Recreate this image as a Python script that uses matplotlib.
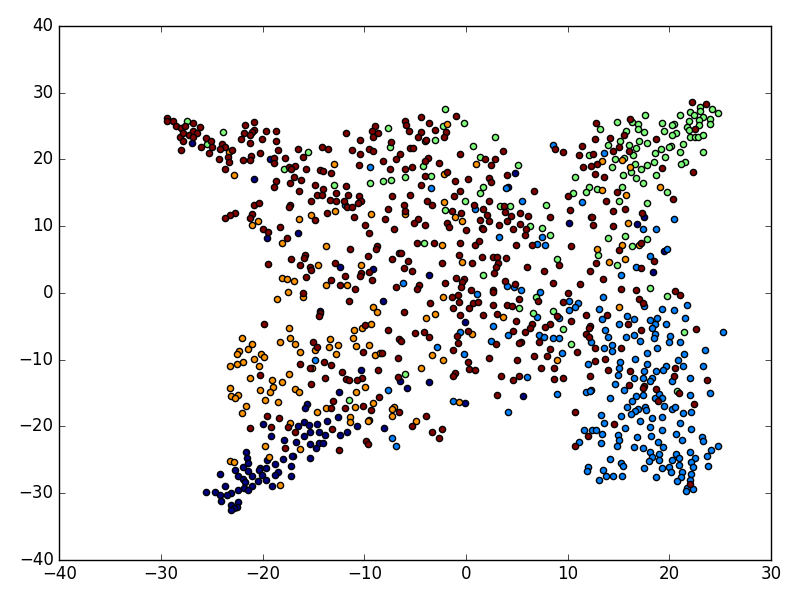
import numpy as np
import matplotlib
matplotlib.use('Agg')
import matplotlib.pyplot as plt

# points, one list for each class
red_pts = [
    (-29.4,26.2),(-29.4,25.7),(-28.8,25.8),(-28.5,25.0),(-28.0,24.7),(-27.6,25.0),(-26.8,25.5),(-26.2,24.8),
    (-28.1,23.4),(-27.8,23.9),(-27.2,23.7),(-26.8,24.2),(-26.5,23.9),(-26.8,23.3),(-27.8,22.7),(-28.0,21.4),
    (-26.1,21.9),(-25.6,23.2),(-25.1,22.7),(-25.0,21.8),(-25.3,21.0),(-24.0,22.3),(-23.7,21.8),(-24.2,21.5),
    (-23.0,21.4),(-23.4,20.3),(-24.3,20.0),(-23.3,19.6),(-23.7,18.5),(-21.7,25.1),(-20.8,25.6),(-21.8,24.0),
    (-20.8,24.4),(-21.0,24.1),(-21.2,23.6),(-22.1,23.1),(-21.2,22.5),(-20.1,23.1),(-19.7,24.2),(-18.7,24.3),
    (-18.7,22.8),(-18.5,21.4),(-20.3,20.9),(-21.1,20.5),(-21.9,19.9),(-21.2,19.9),(-18.9,20.2),(-18.9,19.4),
    (-17.8,20.2),(-16.5,21.5),(-16.0,20.3),(-14.2,21.8),(-13.6,21.6),(-11.8,23.9),(-17.4,18.8),(-16.8,19.0),
    (-17.2,18.5),(-15.7,18.5),(-14.4,18.4),(-14.1,18.3),(-13.3,18.0),(-16.9,17.4),(-16.2,16.9),(-18.7,16.7),
    (-18.9,15.9),(-17.3,16.4),(-16.4,15.2),(-14.9,16.2),(-14.1,15.6),(-14.7,14.6),(-14.2,14.6),(-12.8,14.9),
    (-11.8,16.0),(-11.6,14.6),(-15.2,13.7),(-13.4,13.9),(-12.8,13.7),(-12.0,13.8),(-11.7,12.8),(-20.8,13.1),
    (-20.4,13.4),(-17.3,13.1),(-17.4,12.8),(-22.7,12.0),(-23.2,11.6),(-23.7,11.2),(-21.0,11.8),(-21.2,11.2),
    (-13.7,11.9),(-14.9,10.9),(-20.0,9.5),(-19.5,9.1),(-18.3,9.9),(-17.6,8.2),
    (-9.0,25.0),(-9.2,24.3),(-8.7,23.9),(-9.1,23.3),(-10.4,22.9),(-7.4,22.6),(-11.2,21.4),(-10.4,20.8),
    (-9.5,21.5),(-9.1,21.3),(-10.5,19.2),(-8.2,19.8),(-6.9,20.0),(-6.5,20.8),(-7.5,18.6),(-6.0,25.8),
    (-5.95,25.1),(-5.6,24.3),(-4.4,26.4),(-3.6,25.5),(-4.4,24.1),(-4.7,23.4),(-3.9,22.9),(-3.1,24.4),
    (-2.0,24.1),(-2.2,23.4),(-1.0,26.5),(-5.5,21.7),(-5.2,21.7),(-0.6,20.8),(3.6,21.2),(-3.7,20.2),
    (-4.0,19.7),(-2.7,19.5),(-6.0,18.5),(-5.3,18.9),(1.9,20.0),(2.8,20.1),(2.5,19.1),(-1.9,18.1),
    (-4.0,17.5),(-1.1,16.7),(0.15,17.0),(2.25,17.2),(2.5,16.6),(4.0,17.7),(-4.4,16.2),(-0.6,15.2),
    (-1.2,14.5),(6.7,15.3),(-7.3,14.5),(-5.5,14.6),(-3.8,13.8),(-3.3,13.2),(2.25,13.8),(0.8,13.2),
    (3.7,13.0),(-10.5,14.5),(-10.3,13.8),(-10.6,13.4),(-11.2,12.8),(-7.7,12.6),(-6.1,13.2),(-6.0,12.2),
    (-11.0,11.3),(-7.95,11.0),(-9.9,10.1),(-9.55,9.0),(-7.1,9.6),(-4.7,11.0),(-5.1,10.4),(-4.0,10.1),
    (-1.4,12.3),(-0.5,12.0),(-1.9,10.4),(-1.7,9.9),(0.0,9.4),(1.65,12.5),(2.1,11.7),(1.4,10.9),
    (2.3,10.7),(1.6,9.7),(1.7,9.5),(3.2,10.1),(3.85,12.1),(4.4,11.5),(4.0,10.7),(5.3,11.9),
    (6.1,11.5),(5.3,10.3),(4.6,9.6),(5.9,9.6),(5.75,8.7),(8.3,11.3),
    (22.2,28.6),(23.6,28.3),(16.1,26.1),(12.8,25.4),(22.5,24.5),(15.5,23.6),(14.2,23.2),(12.7,23.0),
    (18.7,23.1),(11.4,22.0),(8.7,21.5),(9.5,21.1),(11.1,20.6),(12.5,20.8),(14.4,21.3),(15.0,21.9),
    (16.0,21.3),(12.9,19.3),(12.3,19.0),(11.5,18.8),(12.7,17.8),(13.6,17.3),(19.3,18.7),(22.3,18.1),
    (14.8,15.1),(10.0,14.5),(13.8,13.7),(20.3,14.1),(10.2,12.4),(14.4,12.2),(15.6,12.5),(17.3,11.9),
    (12.4,11.3),(12.5,10.1),(14.4,10.0),
    (-11.4,6.5),(-8.8,7.0),(-8.9,6.5),(-9.6,5.5),(-7.3,5.1),(-6.6,5.9),(-17.2,5.0),(-15.8,5.7),
    (-15.9,5.2),(-19.5,4.3),(-16.3,4.1),(-15.3,3.8),(-15.2,3.4),(-12.9,4.5),(-10.3,3.0),(-10.4,2.5),
    (-9.5,3.1),(-11.9,2.5),(-15.7,2.4),(-13.3,1.9),(-12.4,1.1),(-9.2,1.9),(-10.9,0.6),(-6.9,0.9),
    (-16.0,0.0),(-11.55,-1.2),(-14.4,-3.0),(-14.5,-3.5),(-19.9,-4.7),(-9.9,-4.8),(-7.7,-5.6),(-6.6,-6.9),
    (-15.0,-7.4),(-14.7,-8.1),(-10.1,-8.8),(-8.3,-9.0),(-6.7,-9.7),(-16.3,-10.6),(-14.0,-10.3),(-13.3,-10.8),
    (-15.3,-11.3),(-12.2,-11.9),(-8.7,-11.6),(-20.3,-12.3),(-13.9,-12.7),(-11.8,-12.9),(-11.5,-13.0),(-10.2,-12.7),
    (-10.7,-13.1),(-6.7,-12.6),(-15.2,-13.7),
    (-4.8,7.4),(-3.2,7.5),(-0.6,7.5),(0.9,7.1),(1.3,7.7),(4.9,7.1),(6.5,7.2),(10.35,7.0),
    (-6.4,5.9),(-5.7,4.7),(-6.1,3.7),(-5.3,3.3),(-0.7,5.7),(-2.4,4.4),(0.6,4.4),(1.6,5.4),
    (2.6,5.4),(3.0,5.3),(3.96,5.2),(3.1,4.4),(2.9,3.9),(2.7,2.9),(5.96,3.8),(7.7,3.3),
    (9.1,4.1),(12.2,3.3),(12.8,4.4),(-2.1,1.5),(-1.0,2.2),(-0.2,2.1),(-0.4,1.6),(-0.5,0.9),
    (-4.6,1.1),(-4.8,0.6),(0.5,0.4),(-0.8,-0.3),(-1.4,-0.7),(-0.7,-1.4),(-3.5,-1.5),(0.7,-1.5),
    (1.2,-1.4),(2.65,0.4),(2.65,0.1),(3.8,1.7),(4.8,1.3),(8.5,1.5),(11.2,1.3),(10.0,-0.1),
    (5.2,-1.0),(7.1,-1.3),(9.5,-1.4),(2.6,-1.9),(4.05,-1.9),(4.5,-2.0),(-1.3,-2.3),(0.3,-2.3),
    (-0.6,-3.3),(1.7,-3.3),(3.0,-3.2),(-6.1,-2.9),(4.9,-4.2),(8.9,-3.5),(10.3,-4.2),(11.8,-3.3),
    (6.5,-4.7),(6.3,-5.2),(5.8,-5.8),(8.3,-4.7),(7.8,-5.1),(12.2,-5.0),(12.05,-5.3),(11.8,-6.2),
    (12.1,-6.6),(4.6,-5.7),(-5.0,-6.0),(-4.1,-5.9),(-3.6,-6.6),(-6.4,-7.2),(0.15,-5.7),(-0.9,-6.4),
    (-0.8,-7.5),(-1.3,-8.5),(2.9,-7.7),(5.4,-7.4),(5.2,-7.5),(7.2,-7.4),(8.3,-8.4),(7.96,-9.5),
    (6.7,-9.5),(10.9,-8.9),(12.7,-8.3),(12.7,-10.2),(2.3,-9.8),(5.0,-10.1),(0.15,-10.3),(0.3,-11.4),
    (0.9,-11.6),(7.4,-11.2),(8.65,-11.3),(-1.1,-11.96),(-1.3,-12.4),(3.4,-12.5),(5.2,-12.5),(4.6,-13.1),
    (8.6,-12.9),(9.5,-12.7),(12.2,-12.4),
    (15.0,6.4),(17.2,7.5),(18.5,4.8),(17.2,3.7),(13.5,2.1),(15.2,0.6),(16.7,0.4),(20.5,0.2),
    (21.0,-0.4),(17.0,-0.9),(17.4,-1.6),(13.9,-3.3),(15.9,-4.7),(17.2,-5.5),(22.6,-5.4),(15.2,-8.2),
    (13.65,-9.96),(14.0,-11.5),(16.1,-11.7),(20.5,-11.3),(20.4,-12.5),(23.7,-13.1),(16.05,-13.8),(17.5,-13.96),
    (17.4,-14.3),(18.7,-14.4),
    (-13.1,-16.2),(-13.3,-17.3),(-11.9,-17.2),(-10.1,-16.9),(-8.6,-15.6),(-9.35,-17.5),(-19.6,-18.4),(-18.4,-18.8),
    (-21.2,-20.2),(-19.2,-20.1),(-17.5,-20.1),(-16.8,-20.8),(-13.2,-20.4),(-9.8,-22.2),(-9.6,-22.7),(-17.8,-23.2),
    (-12.5,-23.6),(3.0,-15.3),(10.7,-17.9),(-6.6,-17.9),(-3.9,-18.5),(-5.3,-19.9),(-2.4,-20.4),(-3.3,-20.8),
    (-2.7,-21.8),(10.7,-22.9),(14.5,-19.6),(12.0,-21.4),(20.9,-15.0),(18.9,-16.2),(22.4,-16.7),(22.0,-28.7),
]

orange_pts = [
    (-23.3,21.1),(-22.8,17.7),(-13.0,19.3),(-12.9,12.3),(-15.2,11.7),(-16.4,11.0),(-20.5,10.7),(-21.0,10.1),
    (-1.9,25.3),(1.0,19.3),(-2.2,17.8),(-2.2,13.6),(-9.3,11.8),(-6.0,11.8),(-1.1,11.3),(-0.4,10.8),
    (13.35,19.8),(15.3,19.9),(16.1,18.8),(13.4,15.4),(19.1,15.8),(15.7,14.6),(15.9,10.5),
    (-18.1,7.4),(-13.8,7.0),(-14.6,4.2),(-10.3,4.2),(-18.1,2.2),(-17.6,2.0),(-16.9,1.8),(-13.8,1.1),
    (-11.7,1.2),(-17.5,0.1),(-18.6,-1.0),(-16.0,-0.6),(-9.1,-2.2),(-8.8,-2.9),(-17.4,-5.3),(-11.0,-5.6),
    (-10.2,-5.2),(-9.3,-4.7),(-22.0,-6.8),(-17.3,-6.8),(-18.3,-7.4),(-21.0,-7.6),(-16.8,-7.7),(-11.1,-6.8),
    (-13.4,-6.9),(-13.5,-8.1),(-12.6,-7.8),(-14.9,-8.5),(-16.3,-8.9),(-10.8,-8.0),(-9.5,-7.8),(-12.8,-9.1),
    (-9.0,-9.3),(-8.5,-9.0),(-22.3,-8.7),(-21.4,-8.4),(-22.5,-9.2),(-20.2,-9.2),(-19.9,-9.6),(-20.8,-9.9),
    (-21.9,-10.4),(-22.5,-10.7),(-23.2,-11.0),(-20.4,-11.0),(-15.1,-11.3),(-17.4,-12.2),(-21.2,-12.8),(-19.1,-13.1),
    (-18.1,-13.3),(-18.96,-14.1),(-23.2,-14.3),(-20.3,-14.5),(-16.8,-14.4),(-9.9,-14.1),
    (-2.4,7.2),(-0.4,4.6),(-2.3,-0.6),(-3.1,-3.2),(-3.9,-3.8),(3.6,-3.7),(0.6,-6.2),(-3.3,-9.3),
    (-2.3,-10.1),(-4.4,-11.2),(8.9,-10.0),(12.9,6.5),(15.3,7.1),(17.0,7.1),(14.1,4.6),(15.6,5.1),(15.0,-2.2),
    (-19.3,-14.8),(-23.1,-15.4),(-22.4,-15.3),(-22.7,-15.7),(-16.4,-14.9),(-10.8,-14.9),(-19.8,-16.1),(-18.5,-16.3),
    (-21.6,-16.9),(-22.0,-18.0),(-14.7,-17.8),(-13.8,-17.3),(-10.9,-17.1),(-9.1,-16.5),(-11.4,-18.6),(-11.4,-19.4),
    (-9.5,-19.0),(-9.6,-19.2),(-17.3,-19.5),(-19.8,-22.9),(-16.3,-23.4),(-19.4,-24.6),(-23.2,-25.2),(-22.8,-25.4),
    (-18.3,-28.8),(-0.7,-16.4),(-7.1,-17.1),(-7.3,-17.4),(-7.3,-18.5),(-4.9,-19.2),
]

green_pts = [
    (-27.4,25.8),(-23.9,24.1),(-25.5,22.3),(-15.5,21.1),(-17.9,18.5),(-13.0,16.1),
    (-2.1,27.6),(-0.2,25.5),(-2.3,25.0),(-7.7,24.7),(-3.1,22.9),(-4.05,22.7),(-7.5,21.8),(2.8,23.4),
    (0.7,22.0),(1.4,20.4),(5.1,19.1),(-4.2,19.0),(-3.4,17.5),(-6.0,17.4),(-7.4,16.9),(-8.2,16.8),
    (-9.4,16.5),(1.7,15.9),(1.4,14.9),(-0.1,13.8),(-2.1,12.4),(3.3,13.0),(4.3,13.0),(7.85,13.1),
    (6.3,10.0),(7.5,9.7),(8.3,8.7),
    (23.0,27.9),(23.0,27.3),(24.2,27.6),(24.8,26.9),(22.0,27.1),(22.4,26.7),(23.3,26.4),(21.0,26.6),
    (17.6,26.7),(14.8,25.6),(16.3,25.6),(16.9,25.3),(16.9,24.6),(17.5,24.1),(15.75,24.2),(13.2,24.5),
    (19.3,25.4),(20.4,25.3),(20.2,25.1),(19.5,24.3),(20.6,23.9),(20.2,23.7),(21.9,25.8),(22.9,25.9),
    (24.0,26.0),(24.0,25.3),(22.9,25.1),(21.7,24.9),(21.9,24.4),(22.0,23.4),(22.5,23.4),(22.8,23.3),
    (23.25,23.6),(15.1,22.7),(14.0,22.2),(17.0,22.8),(17.8,22.5),(16.0,22.1),(16.7,21.7),(21.35,22.3),
    (20.1,22.0),(20.0,21.8),(19.2,21.5),(18.6,20.9),(21.0,21.1),(23.3,21.1),(19.6,20.4),(16.4,20.6),
    (12.1,20.6),(14.6,20.1),(15.5,20.2),(18.5,19.6),(17.8,19.2),(16.6,19.3),(17.2,18.6),(14.3,18.9),
    (21.5,19.6),(21.1,19.3),(16.2,18.1),(15.4,17.7),(18.7,17.6),(16.7,17.2),(17.35,16.5),(10.7,17.3),
    (12.1,15.8),(12.9,15.5),(11.8,15.1),(10.5,14.9),(15.3,15.8),(19.8,15.1),(15.0,13.7),(17.8,13.4),
    (14.0,8.2),(15.65,8.5),(17.8,8.0),
    (-4.1,7.4),(1.7,2.7),(8.9,5.0),(13.0,5.7),(6.9,-0.6),(5.2,-2.3),(6.6,-2.96),(8.5,-2.8),
    (9.5,-5.4),(10.3,-7.6),(-6.0,-12.1),(16.3,7.0),(14.8,4.1),(18.1,0.7),(19.8,-0.5),(21.4,-5.8),
    (-11.5,-16.0),(20.7,-14.7),
]

blue_pts = [
    (-11.9,13.2),(-9.4,18.8),(-3.4,15.7),(3.9,15.7),(5.5,13.7),(0.9,12.5),(3.2,8.3),(7.5,8.3),
    (8.5,22.1),(13.6,20.9),(11.4,13.6),(20.4,11.1),(17.4,9.6),(18.7,9.5),
    (-14.9,-10.1),(-7.7,-14.6),(-6.2,1.5),(1.1,-0.2),(6.97,7.3),(7.8,7.1),(4.0,0.99),(4.7,0.9),
    (5.4,0.4),(7.3,0.1),(10.1,-1.2),(11.0,-1.5),(10.1,-2.6),(10.7,-2.2),(13.1,-2.4),(7.0,-3.6),
    (9.1,-3.8),(2.6,-4.9),(-0.6,-5.9),(4.1,-6.3),(7.2,-6.3),(7.7,-6.6),(8.5,-6.8),(9.1,-6.7),
    (12.3,-7.4),(2.5,-7.2),(-2.9,-8.1),(-0.2,-9.2),(9.4,-8.96),(12.0,-10.6),(6.0,-12.6),(12.3,-14.5),
    (19.8,6.5),(18.05,5.5),(16.7,3.9),(15.2,2.7),(13.5,-0.6),(17.5,-2.0),(21.7,-1.8),(19.3,-2.5),
    (20.4,-2.6),(21.5,-3.8),(13.4,-3.9),(15.8,-3.5),(16.5,-3.9),(15.0,-4.7),(18.1,-4.1),(18.8,-3.8),
    (18.6,-4.7),(19.7,-4.6),(18.3,-5.3),(13.7,-5.5),(14.0,-6.6),(15.7,-6.6),(16.5,-6.3),(18.6,-6.2),
    (18.5,-6.7),(20.05,-6.4),(20.0,-7.4),(21.0,-7.4),(17.1,-7.2),(25.3,-5.8),(13.6,-8.2),(14.3,-7.8),
    (14.3,-8.7),(18.8,-8.3),(17.8,-8.96),(23.5,-8.6),(21.4,-9.1),(16.6,-9.96),(20.8,-10.1),(15.1,-10.3),
    (17.8,-10.6),(21.3,-10.9),(19.7,-11.0),(23.3,-11.0),(15.0,-11.2),(19.4,-11.5),(18.7,-11.7),(17.5,-11.7),
    (14.9,-12.3),(22.0,-12.8),(16.5,-12.8),(17.4,-12.7),(18.3,-12.8),(18.05,-13.2),(20.2,-13.2),(14.6,-13.7),
    (15.5,-14.5),
    (8.9,-15.1),(-1.3,-16.2),(4.15,-17.9),(-7.3,-21.7),(-6.9,-23.0),(11.1,-22.4),
    (17.4,-15.3),(16.7,-15.4),(16.3,-16.2),(14.2,-15.7),(11.75,-14.9),(12.2,-14.7),(18.6,-15.8),(19.0,-15.1),
    (19.3,-15.7),(22.0,-15.3),(24.0,-15.0),(15.8,-17.1),(16.9,-17.4),(16.6,-17.7),(17.6,-17.1),(17.7,-17.5),
    (19.5,-16.9),(20.2,-17.4),(20.5,-17.1),(22.1,-17.8),(21.3,-18.0),(16.2,-18.2),(15.2,-18.4),(13.3,-18.3),
    (17.1,-19.2),(18.3,-18.8),(19.3,-18.6),(21.0,-19.5),(13.6,-19.5),(15.6,-20.3),(18.1,-20.1),(19.3,-20.6),
    (22.1,-20.4),(11.6,-20.5),(12.4,-20.6),(12.8,-20.6),(13.4,-21.1),(14.9,-21.3),(15.0,-22.0),(14.8,-22.9),
    (16.8,-21.6),(18.2,-21.4),(20.6,-21.2),(21.2,-22.1),(23.2,-21.6),(23.3,-22.2),(13.3,-22.5),(18.9,-22.4),
    (19.4,-23.1),(16.5,-23.1),(17.4,-23.3),(18.1,-23.8),(19.0,-24.1),(18.3,-24.6),(18.0,-25.2),(19.0,-25.1),
    (22.05,-23.8),(24.8,-22.9),(24.1,-23.6),(23.65,-24.4),(20.6,-24.2),(20.9,-24.8),(20.2,-25.1),(22.5,-24.8),
    (22.1,-25.3),(20.9,-25.8),(22.3,-26.1),(23.8,-25.9),(14.2,-24.9),(15.2,-25.5),(15.4,-25.9),(17.5,-26.3),
    (19.3,-26.3),(20.0,-26.1),(20.15,-26.9),(21.2,-26.8),(22.1,-27.2),(12.0,-26.1),(11.9,-26.7),(13.5,-26.6),
    (13.75,-27.4),(14.4,-27.4),(15.3,-27.4),(13.1,-28.0),(18.7,-27.6),(21.1,-27.6),(20.7,-28.2),(22.0,-28.1),
    (21.7,-29.2),(22.3,-29.4),(21.6,-29.7),
]

navy_pts = [
    (-26.9,22.4),(-19.3,20.1),(-20.8,17.1),(-16.5,9.0),(-19.6,8.2),(4.8,17.9),(4.1,15.8),
    (10.1,10.4),(12.3,11.4),(17.5,11.4),(16.8,10.3),
    (-12.4,3.9),(-9.1,3.6),(-8.2,-1.3),(-14.4,-2.8),(-10.3,-11.5),(-6.5,-13.2),
    (-3.6,2.7),(-0.15,-4.4),(-3.65,-13.4),(-5.85,-14.2),(19.5,6.3),(18.4,3.1),(5.6,-15.4),(-0.1,-16.5),
    (-12.5,-14.8),(-15.6,-16.6),(-15.8,-17.3),(-12.6,-18.6),(-20.0,-19.6),(-15.9,-19.3),(-15.4,-19.8),(-14.7,-19.7),
    (-13.7,-19.2),(-16.5,-20.0),(-10.7,-19.9),(-8.1,-20.3),(-11.7,-20.9),(-12.4,-21.3),(-15.3,-20.8),(-14.5,-20.8),
    (-13.9,-21.3),(-15.9,-21.4),(-19.2,-21.4),(-17.9,-22.1),(-16.7,-22.4),(-15.3,-22.7),(-14.5,-22.5),(-14.1,-22.5),
    (-14.8,-23.3),(-21.6,-23.8),(-21.5,-24.8),(-21.4,-25.5),(-17.0,-24.4),(-17.1,-24.5),(-18.0,-24.9),(-15.3,-24.8),
    (-19.6,-25.0),(-18.8,-25.6),(-17.2,-26.0),(-21.9,-26.1),(-20.3,-26.3),(-19.7,-26.2),(-20.4,-26.5),(-22.7,-26.6),
    (-21.4,-26.7),(-18.5,-26.8),(-18.8,-27.3),(-17.2,-27.4),(-24.2,-27.2),(-22.4,-27.4),(-21.0,-27.4),(-20.1,-27.3),
    (-21.9,-27.9),(-19.7,-28.0),(-20.5,-28.2),(-21.7,-28.4),(-19.1,-28.9),(-23.7,-29.0),(-21.05,-28.9),(-21.8,-29.2),
    (-21.4,-29.6),(-22.4,-29.6),(-23.1,-30.0),(-25.6,-29.9),(-24.7,-29.9),(-24.2,-30.3),(-23.5,-30.3),(-24.1,-31.2),
    (-22.4,-31.4),(-23.1,-31.8),(-22.5,-32.1),(-22.8,-32.3),(-23.1,-32.5),
]

# old matplotlib look: white background, jet colours, inward ticks
plt.style.use('classic')
fig = plt.figure(figsize=(8, 6), dpi=100, facecolor='white')
ax = fig.add_axes([0.074, 0.067, 0.89, 0.89])

groups = [(navy_pts, 0.0), (blue_pts, 0.25), (green_pts, 0.5), (orange_pts, 0.75), (red_pts, 1.0)]
for pts, level in groups:
    pts = np.array(pts)
    ax.scatter(pts[:, 0], pts[:, 1], s=20, color=plt.cm.jet(level), edgecolors='k', linewidths=1)

ax.set_xlim(-40, 30)
ax.set_ylim(-40, 40)

plt.savefig('out.png', dpi=100, facecolor='white')
